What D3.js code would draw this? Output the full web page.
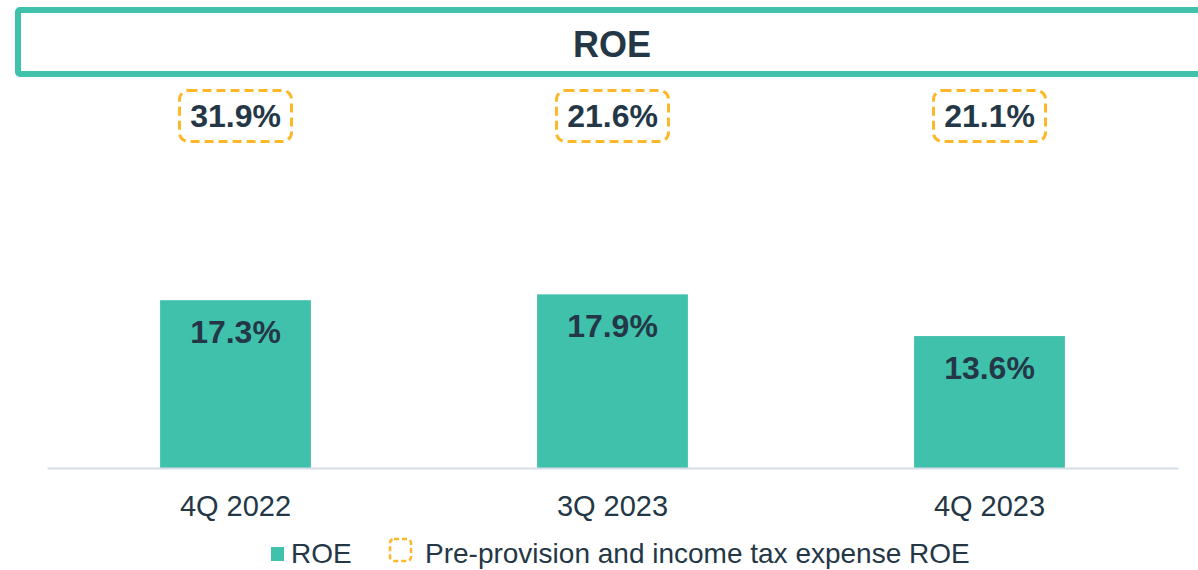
<!DOCTYPE html>
<html>
<head>
<meta charset="utf-8">
<script src="https://cdn.jsdelivr.net/npm/d3@7/dist/d3.min.js"></script>
<style>
  body { margin: 0; background: #fff; }
  svg { display: block; font-family: "Liberation Sans", Arial, sans-serif; }
</style>
</head>
<body>
<svg id="chart" width="1198" height="570"></svg>
<script>
// chart values
const categories = ["4Q 2022", "3Q 2023", "4Q 2023"];
const roe = [17.3, 17.9, 13.6];
const preProvisionRoe = [31.9, 21.6, 21.1];
const legendLabels = ["ROE", "Pre-provision and income tax expense ROE"];

const teal = "#40C1AC";
const orange = "#FDB82A";
const ink = "#243746";

const svg = d3.select("#chart");

// title box (runs off the right edge like the slide)
svg.append("rect")
  .attr("x", 18).attr("y", 10)
  .attr("width", 1220).attr("height", 64)
  .attr("rx", 2)
  .attr("fill", "none")
  .attr("stroke", teal)
  .attr("stroke-width", 6);

svg.append("text")
  .attr("x", 612).attr("y", 57)
  .attr("text-anchor", "middle")
  .attr("font-size", 36).attr("font-weight", "bold")
  .attr("fill", ink)
  .text("ROE");

const x = d3.scaleBand()
  .domain(categories)
  .range([47, 1178])
  .paddingInner(0.6)
  .paddingOuter(0.3);

const y = d3.scaleLinear()
  .domain([0, 40])
  .range([468, 80]);

// bars
svg.selectAll("rect.bar")
  .data(roe)
  .join("rect")
  .attr("class", "bar")
  .attr("x", (d, i) => x(categories[i]))
  .attr("y", d => y(d))
  .attr("width", x.bandwidth())
  .attr("height", d => y(0) - y(d))
  .attr("fill", teal);

// value labels inside the bars
svg.selectAll("text.val")
  .data(roe)
  .join("text")
  .attr("class", "val")
  .attr("x", (d, i) => x(categories[i]) + x.bandwidth() / 2)
  .attr("y", d => y(d) + 43)
  .attr("text-anchor", "middle")
  .attr("font-size", 32).attr("font-weight", "bold")
  .attr("fill", ink)
  .text(d => d.toFixed(1) + "%");

// x axis
const axis = svg.append("g")
  .attr("transform", `translate(0,${y(0)})`)
  .call(d3.axisBottom(x).tickSize(0).tickPadding(27));
axis.select(".domain").attr("stroke", "#D6DEE7").attr("stroke-width", 2);
axis.selectAll("text")
  .attr("font-size", 29)
  .attr("font-family", "Liberation Sans, Arial, sans-serif")
  .attr("fill", ink);

// pre-provision ROE callouts in dashed boxes
const boxW = 112, boxH = 51, boxCy = 116;
const callout = svg.selectAll("g.callout")
  .data(preProvisionRoe)
  .join("g")
  .attr("class", "callout")
  .attr("transform", (d, i) => `translate(${x(categories[i]) + x.bandwidth() / 2},${boxCy})`);

callout.append("rect")
  .attr("x", -boxW / 2).attr("y", -boxH / 2)
  .attr("width", boxW).attr("height", boxH)
  .attr("rx", 9)
  .attr("fill", "none")
  .attr("stroke", orange)
  .attr("stroke-width", 3)
  .attr("stroke-dasharray", "9,5");

callout.append("text")
  .attr("y", 11)
  .attr("text-anchor", "middle")
  .attr("font-size", 32).attr("font-weight", "bold")
  .attr("fill", ink)
  .text(d => d.toFixed(1) + "%");

// legend
const legend = svg.append("g");
legend.append("rect")
  .attr("x", 271).attr("y", 547)
  .attr("width", 13).attr("height", 14)
  .attr("fill", teal);
legend.append("text")
  .attr("x", 291).attr("y", 563)
  .attr("font-size", 28).attr("fill", ink)
  .text(legendLabels[0]);
legend.append("rect")
  .attr("x", 390).attr("y", 539)
  .attr("width", 21).attr("height", 22)
  .attr("rx", 4)
  .attr("fill", "none")
  .attr("stroke", orange)
  .attr("stroke-width", 2.5)
  .attr("stroke-dasharray", "5,3");
legend.append("text")
  .attr("x", 425).attr("y", 563)
  .attr("font-size", 28).attr("fill", ink)
  .text(legendLabels[1]);
</script>
</body>
</html>
